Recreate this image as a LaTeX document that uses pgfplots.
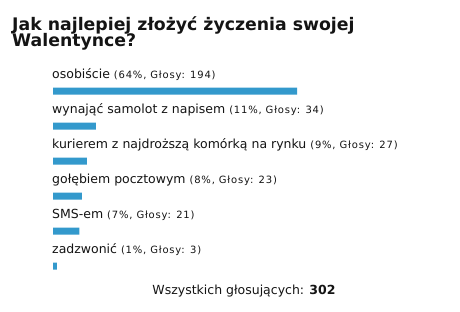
\documentclass[border=0pt]{standalone}
\usepackage{pgfplots}
\pgfplotsset{compat=1.18}
\usepackage{fontspec}
\setmainfont{DejaVu Sans}
\newfontfamily\smallfont[LetterSpace=8]{DejaVu Sans}
\definecolor{barblue}{RGB}{51,153,204}
\definecolor{txt}{RGB}{20,20,20}
\pgfplotstableread{
idx votes
0 194
1 34
2 27
3 23
4 21
5 3
}\votes
\begin{document}
\begin{tikzpicture}[x=1pt,y=1pt]
\fill[white] (0,0) rectangle (460,311);
\useasboundingbox (0,0) rectangle (460,311);
\node[anchor=base west,inner sep=0pt,font=\bfseries\fontsize{17.3}{19}\selectfont,text=txt] at (12,280) {Jak najlepiej złożyć życzenia swojej};
\node[anchor=base west,inner sep=0pt,font=\bfseries\fontsize{17.3}{19}\selectfont,text=txt] at (12,264.3) {Walentynce?};
\begin{axis}[
  at={(53pt,27.5pt)}, anchor=south west,
  scale only axis, width=244pt, height=210pt,
  xmin=0, xmax=194, ymin=-0.5, ymax=5.5, y dir=reverse,
  hide axis, clip=false,
  xbar, bar width=7pt,
]
\addplot[fill=barblue, draw=none, bar shift=0pt] table[x=votes,y=idx] {\votes};
\def\lab#1#2#3{\node[anchor=base west,inner sep=0pt,text=txt,font=\fontsize{12.5}{14}\selectfont] at (axis cs:0,#1) [yshift=13pt,xshift=-1pt] {#2 {\smallfont\fontsize{10}{12}\selectfont #3}};}
\lab{0}{osobiście}{(64\%, Głosy: 194)}
\lab{1}{wynająć samolot z napisem}{(11\%, Głosy: 34)}
\lab{2}{kurierem z najdroższą komórką na rynku}{(9\%, Głosy: 27)}
\lab{3}{gołębiem pocztowym}{(8\%, Głosy: 23)}
\lab{4}{SMS-em}{(7\%, Głosy: 21)}
\lab{5}{zadzwonić}{(1\%, Głosy: 3)}
\end{axis}
\node[anchor=base,inner sep=0pt,text=txt,font=\fontsize{12.5}{14}\selectfont] at (244,17) {Wszystkich głosujących: \textbf{302}};
\end{tikzpicture}
\end{document}
